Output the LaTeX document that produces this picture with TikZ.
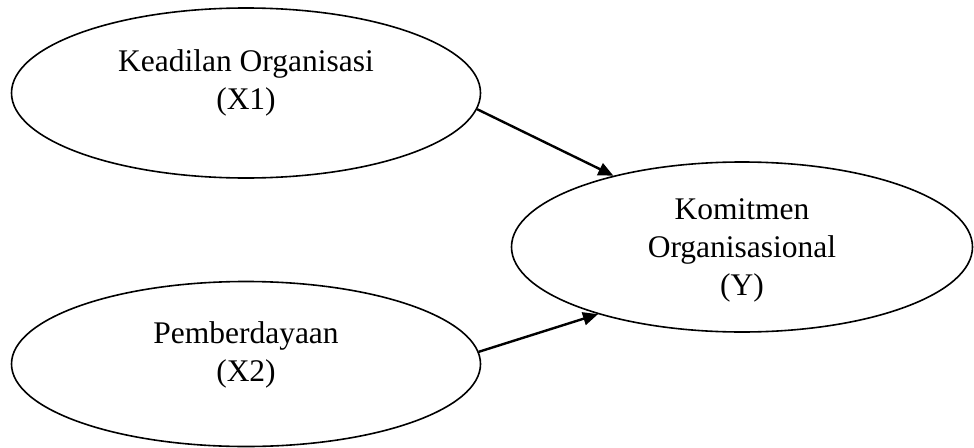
\documentclass[tikz,border=0pt]{standalone}
\usepackage{fontspec}
\setmainfont{Liberation Serif}
\usepackage{tikz}
\usetikzlibrary{arrows.meta}
\usetikzlibrary{shapes.geometric}
\tikzstyle{latent} = [ellipse, draw, line width=1.6pt, inner sep=0pt]
\tikzstyle{caption} = [align=center, font=\fontsize{31.5}{38}\selectfont, inner sep=0pt]
\tikzstyle{line} = [draw, line width=2.4pt, -{Triangle[length=15pt, width=13pt]}]

\begin{document}
\begin{tikzpicture}[x=1pt, y=-1pt]
            \useasboundingbox (0,0) rectangle (974,447);
            % Place nodes
            \node [latent, minimum width=469pt, minimum height=170pt] (x1) at (246,93) {};
            \node [caption] (t1) at (246,83) {Keadilan Organisasi\\(X1)};
            \node [latent, minimum width=469pt, minimum height=165pt] (x2) at (246,364) {};
            \node [caption] (t2) at (246,355) {Pemberdayaan\\(X2)};
            \node [latent, minimum width=461pt, minimum height=170pt] (y) at (742,247) {};
            \node [caption] (t3) at (742,250) {Komitmen\\Organisasional\\(Y)};
            % Draw edges
            \path [line] (x1.-4) -- (y.151);
            \path [line] (x2.3) -- (y.205);
          \end{tikzpicture}
\end{document}
